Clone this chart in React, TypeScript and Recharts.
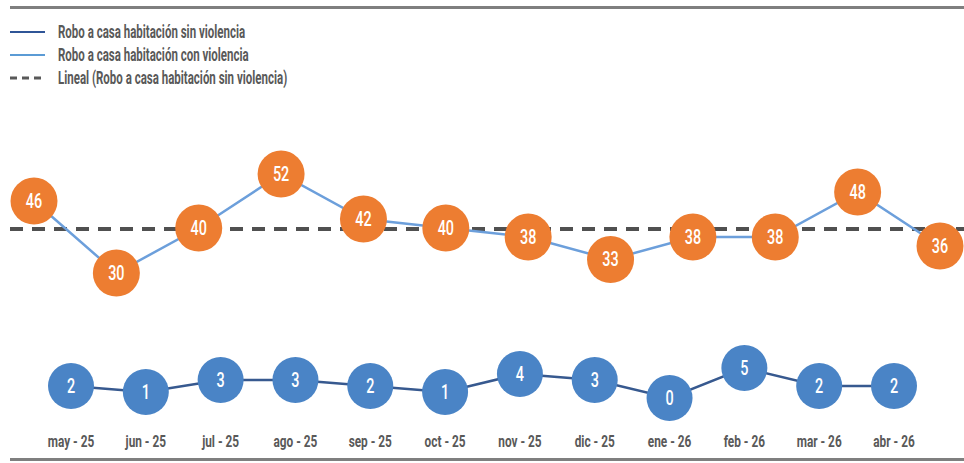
import React from 'react';
import { ComposedChart, Line, XAxis, YAxis, ReferenceLine, LabelList } from 'recharts';

const months = ['may - 25', 'jun - 25', 'jul - 25', 'ago - 25', 'sep - 25', 'oct - 25', 'nov - 25', 'dic - 25', 'ene - 26', 'feb - 26', 'mar - 26', 'abr - 26'];
const sinViolencia = [2, 1, 3, 3, 2, 1, 4, 3, 0, 5, 2, 2];
const conViolencia = [46, 30, 40, 52, 42, 40, 38, 33, 38, 38, 48, 36];
const tendenciaSinViolencia = 39.8;

const seriesNames = {
  sin: 'Robo a casa habitación sin violencia',
  con: 'Robo a casa habitación con violencia',
  lineal: 'Lineal (Robo a casa habitación sin violencia)',
};

const data = months.map((m, i) => ({ month: m, sin: sinViolencia[i], con: conViolencia[i] }));

const FONT = "Roboto, 'Noto Sans', sans-serif";
const GRAY = '#595959';

const legendItems = [
  { label: seriesNames.sin, color: '#2F5597', dash: false },
  { label: seriesNames.con, color: '#5B9BD5', dash: false },
  { label: seriesNames.lineal, color: '#595959', dash: true },
];

const CircleLabel = (props: any) => {
  const { x, y, width, height, value } = props;
  const cx = x + (width || 0) / 2;
  const cy = y + (height || 0) / 2;
  return (
    <text
      transform={`translate(${cx},${cy}) scale(0.72,1)`}
      x={0}
      y={0}
      textAnchor="middle"
      dominantBaseline="central"
      fill="#fff"
      fontSize={20}
      fontWeight={500}
      fontFamily={FONT}
    >
      {value}
    </text>
  );
};

const MonthTick = (props: any) => {
  const { x, y, payload } = props;
  return (
    <text
      transform={`translate(${x},${y - 20}) scale(0.74,1)`}
      x={0}
      y={0}
      textAnchor="middle"
      dominantBaseline="central"
      fill={GRAY}
      fontSize={16}
      fontWeight={700}
      fontFamily={FONT}
    >
      {payload.value}
    </text>
  );
};

export default function App() {
  return (
    <div style={{ position: 'absolute', left: 0, top: 0, width: 964, height: 463, background: '#fff', fontFamily: FONT }}>
      <div style={{ position: 'absolute', left: 10, top: 6, width: 954, height: 3, background: '#7f7f7f' }} />
      <div style={{ position: 'absolute', left: 10, top: 458, width: 954, height: 3, background: '#7f7f7f' }} />
      <div style={{ position: 'absolute', left: 10, top: 20 }}>
        {legendItems.map((it) => (
          <div key={it.label} style={{ display: 'flex', alignItems: 'center', height: 23 }}>
            <svg width={35} height={4} style={{ marginRight: 13, flex: 'none' }}>
              <line x1={0} y1={2} x2={35} y2={2} stroke={it.color} strokeWidth={it.dash ? 3 : 2} strokeDasharray={it.dash ? '7 5' : undefined} />
            </svg>
            <span
              style={{
                color: GRAY,
                fontSize: 19,
                fontWeight: 700,
                whiteSpace: 'nowrap',
                display: 'inline-block',
                transform: 'scaleX(0.605)',
                transformOrigin: 'left center',
              }}
            >
              {it.label}
            </span>
          </div>
        ))}
      </div>
      <div style={{ position: 'absolute', left: 0, top: 0 }}>
        <ComposedChart width={964} height={463} data={data} margin={{ top: 0, right: 0, bottom: 0, left: 10 }}>
          <XAxis
            xAxisId="sin"
            dataKey="month"
            scale="point"
            padding={{ left: 61, right: 70 }}
            height={40}
            axisLine={false}
            tickLine={false}
            interval={0}
            tick={<MonthTick />}
          />
          <XAxis xAxisId="con" dataKey="month" scale="point" padding={{ left: 24, right: 24 }} hide />
          <YAxis yAxisId="sin" domain={[-4.17, 66.33]} hide />
          <YAxis yAxisId="con" domain={[-3.33, 90.67]} hide />
          <ReferenceLine xAxisId="con" yAxisId="con" y={tendenciaSinViolencia} stroke="#505050" strokeWidth={4} strokeDasharray="13 9" />
          <Line
            xAxisId="con"
            yAxisId="con"
            dataKey="con"
            name={seriesNames.con}
            stroke="#6C9FDB"
            strokeWidth={2.5}
            dot={{ r: 23.5, fill: '#ED7D31', stroke: '#ED7D31', strokeWidth: 0 }}
            isAnimationActive={false}
          >
            <LabelList dataKey="con" position="center" content={<CircleLabel />} />
          </Line>
          <Line
            xAxisId="sin"
            yAxisId="sin"
            dataKey="sin"
            name={seriesNames.sin}
            stroke="#37598F"
            strokeWidth={2.5}
            dot={{ r: 23, fill: '#4A84C6', stroke: '#4A84C6', strokeWidth: 0 }}
            isAnimationActive={false}
          >
            <LabelList dataKey="sin" position="center" content={<CircleLabel />} />
          </Line>
        </ComposedChart>
      </div>
    </div>
  );
}
